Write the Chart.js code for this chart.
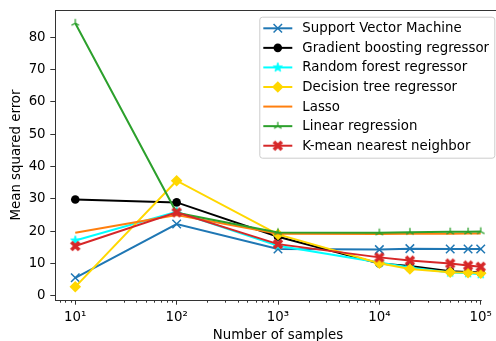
<!DOCTYPE html>
<html>
<head>
<meta charset="utf-8">
<script src="https://cdn.jsdelivr.net/npm/chart.js@4.4.0/dist/chart.umd.min.js"></script>
<style>
  html, body { margin: 0; padding: 0; background: #fff; overflow: hidden; }
  #grafico { display: block; }
</style>
</head>
<body>
<canvas id="grafico" width="510" height="341"></canvas>
<script>
// tamaños de muestra y errores por modelo
const muestras = [10, 100, 1000, 10000, 20000, 50000, 75000, 100000];
const svm = [5.6, 22.2, 14.5, 14.3, 14.6, 14.5, 14.5, 14.5];
const gradientBoosting = [29.8, 28.9, 18.3, 10.0, 9.2, 7.6, 7.4, 7.2];
const randomForest = [17.1, 26.0, 15.5, 10.3, 8.8, 7.2, 7.0, 6.7];
const decisionTree = [2.8, 35.6, 19.0, 10.1, 8.3, 7.3, 7.2, 7.0];
const lasso = [19.5, 25.0, 19.2, 19.1, 19.2, 19.2, 19.3, 19.3];
const linear = [84.3, 25.7, 19.6, 19.5, 19.7, 19.8, 19.8, 19.9];
const knn = [15.4, 25.8, 16.0, 11.9, 10.9, 10.0, 9.4, 9.0];

const nombres = [
  "Support Vector Machine",
  "Gradient boosting regressor",
  "Random forest regressor",
  "Decision tree regressor",
  "Lasso",
  "Linear regression",
  "K-mean nearest neighbor",
];
const yTicks = [0, 10, 20, 30, 40, 50, 60, 70, 80];
const xTicks = [10, 100, 1000, 10000, 100000];

const FUENTE = "'DejaVu Sans', sans-serif";
const TAM = 13.33;
const SUP = { 1: "\u00b9", 2: "\u00b2", 3: "\u00b3", 4: "\u2074", 5: "\u2075" };

// marcadores que Chart.js no trae
function lienzo(n) {
  const c = document.createElement("canvas");
  c.width = n; c.height = n;
  return c;
}

function marcaEstrella(color) {
  const c = lienzo(12), g = c.getContext("2d");
  g.translate(6, 6);
  g.beginPath();
  for (let i = 0; i < 10; i++) {
    const r = i % 2 === 0 ? 4.8 : 1.9;
    const a = -Math.PI / 2 + i * Math.PI / 5;
    g.lineTo(r * Math.cos(a), r * Math.sin(a));
  }
  g.closePath();
  g.fillStyle = color; g.strokeStyle = color; g.lineWidth = 1;
  g.fill(); g.stroke();
  return c;
}

function marcaTri(color) {
  const c = lienzo(12), g = c.getContext("2d");
  g.translate(6, 6);
  g.strokeStyle = color; g.lineWidth = 1.3;
  g.beginPath();
  g.moveTo(0, 0); g.lineTo(0, -4.3);
  g.moveTo(0, 0); g.lineTo(-3.7, 2.15);
  g.moveTo(0, 0); g.lineTo(3.7, 2.15);
  g.stroke();
  return c;
}

function marcaX(color) {
  const c = lienzo(14), g = c.getContext("2d");
  g.translate(7, 7);
  g.rotate(Math.PI / 4);
  g.fillStyle = color;
  g.fillRect(-5.6, -1.8, 11.2, 3.6);
  g.fillRect(-1.8, -5.6, 3.6, 11.2);
  return c;
}

const estilos = [
  { color: "#1f77b4", pointStyle: "crossRot", radius: 6, borderWidth: 1.5 },
  { color: "#000000", pointStyle: "circle", radius: 4.3, borderWidth: 0 },
  { color: "#00ffff", pointStyle: marcaEstrella("#00ffff"), radius: 5, borderWidth: 0 },
  { color: "#ffd700", pointStyle: "rectRot", radius: 5.8, borderWidth: 0 },
  { color: "#ff7f0e", pointStyle: false, radius: 0, borderWidth: 0 },
  { color: "#2ca02c", pointStyle: marcaTri("#2ca02c"), radius: 4, borderWidth: 0 },
  { color: "#d62728", pointStyle: marcaX("#d62728"), radius: 5, borderWidth: 0 },
];
const series = [svm, gradientBoosting, randomForest, decisionTree, lasso, linear, knn];

const datasets = series.map((vals, i) => {
  const e = estilos[i];
  return {
    label: nombres[i],
    data: muestras.map((x, j) => ({ x, y: vals[j] })),
    borderColor: e.color,
    backgroundColor: e.color,
    borderWidth: 2,
    tension: 0,
    fill: false,
    pointStyle: e.pointStyle,
    pointRadius: e.radius,
    pointBackgroundColor: e.color,
    pointBorderColor: e.color,
    pointBorderWidth: e.borderWidth,
    order: series.length - 1 - i,
  };
});

function sinRelleno(scale) {
  scale.paddingTop = 0; scale.paddingBottom = 0;
  scale.paddingLeft = 0; scale.paddingRight = 0;
}

// marco superior, eje inferior, ticks menores y leyenda
const extras = {
  id: "extras",
  afterDraw(chart) {
    const { ctx, chartArea: a, scales: { x } } = chart;
    ctx.save();
    ctx.strokeStyle = "#333";
    ctx.lineWidth = 1;
    ctx.beginPath();
    ctx.moveTo(a.left, a.top + 0.5);
    ctx.lineTo(a.right, a.top + 0.5);
    ctx.moveTo(a.left, Math.round(a.bottom) + 0.5);
    ctx.lineTo(x.getPixelForValue(xTicks[xTicks.length - 1]) + 1, Math.round(a.bottom) + 0.5);
    for (let d = 0; d <= 5; d++) {
      for (let k = 2; k <= 9; k++) {
        const v = k * Math.pow(10, d);
        if (v < x.min || v > x.max) continue;
        const px = Math.round(x.getPixelForValue(v)) + 0.5;
        ctx.moveTo(px, a.bottom);
        ctx.lineTo(px, a.bottom + 2.7);
      }
    }
    ctx.stroke();

    // leyenda
    const ancho = 235, alto = 141;
    const lx = a.right - 6.7 - ancho, ly = a.top + 6.7;
    ctx.beginPath();
    ctx.roundRect(lx + 0.5, ly + 0.5, ancho, alto, 2.7);
    ctx.fillStyle = "rgba(255,255,255,0.8)";
    ctx.fill();
    ctx.strokeStyle = "#cccccc";
    ctx.stroke();

    ctx.font = `${TAM}px ${FUENTE}`;
    ctx.textBaseline = "middle";
    nombres.forEach((nombre, i) => {
      const e = estilos[i];
      const y = ly + 11.6 + i * 19.57;
      const h0 = lx + 4, h1 = lx + 33;
      ctx.strokeStyle = e.color;
      ctx.lineWidth = 2;
      ctx.beginPath();
      ctx.moveTo(h0, y);
      ctx.lineTo(h1, y);
      ctx.stroke();
      if (e.pointStyle) {
        ctx.fillStyle = e.color;
        ctx.strokeStyle = e.color;
        ctx.lineWidth = e.borderWidth;
        Chart.helpers.drawPoint(ctx, {
          pointStyle: e.pointStyle, radius: e.radius, borderWidth: e.borderWidth, rotation: 0,
        }, (h0 + h1) / 2, y);
      }
      ctx.fillStyle = "#000";
      ctx.fillText(nombre, lx + 43, y + 0.5);
    });
    ctx.restore();
  },
};

new Chart(document.getElementById("grafico"), {
  type: "line",
  data: { datasets },
  plugins: [extras],
  options: {
    responsive: false,
    animation: false,
    devicePixelRatio: 1,
    events: [],
    layout: { padding: { top: 10, right: 9, left: 0, bottom: 0 } },
    plugins: { legend: { display: false }, tooltip: { enabled: false } },
    font: { family: FUENTE, size: TAM },
    scales: {
      x: {
        type: "logarithmic",
        min: Math.pow(10, 0.8),
        max: Math.pow(10, 5.2),
        afterBuildTicks: (s) => { s.ticks = xTicks.map((v) => ({ value: v })); },
        afterFit: (s) => { s.height = 41; sinRelleno(s); },
        border: { display: false },
        grid: {
          drawOnChartArea: false, drawTicks: true, tickLength: 4.7,
          tickColor: "#333", tickWidth: 1,
        },
        ticks: {
          color: "#000", padding: 4.7, maxRotation: 0, autoSkip: false,
          font: { family: FUENTE, size: TAM },
          callback: (v) => "10" + SUP[Math.round(Math.log10(v))],
        },
        title: {
          display: true, text: "Number of samples", color: "#000",
          font: { family: FUENTE, size: TAM }, padding: { top: 0, bottom: -2.5 },
        },
      },
      y: {
        type: "linear",
        min: -1.275,
        max: 88.375,
        afterBuildTicks: (s) => { s.ticks = yTicks.map((v) => ({ value: v })); },
        afterFit: (s) => { s.width = 55; sinRelleno(s); },
        border: { display: true, color: "#333", width: 1 },
        grid: {
          drawOnChartArea: false, drawTicks: true, tickLength: 4.7,
          tickColor: "#333", tickWidth: 1,
        },
        ticks: {
          color: "#000", padding: 4.7,
          font: { family: FUENTE, size: TAM },
        },
        title: {
          display: true, text: "Mean squared error", color: "#000",
          font: { family: FUENTE, size: TAM }, padding: { top: 8.5, bottom: 0 },
        },
      },
    },
  },
});
</script>
</body>
</html>
